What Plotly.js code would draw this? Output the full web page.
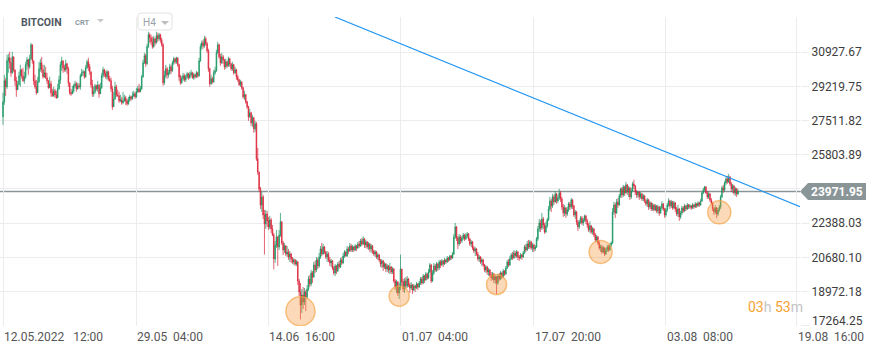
<!DOCTYPE html>
<html><head><meta charset="utf-8">
<script src="https://cdn.plot.ly/plotly-3.0.1.min.js"></script>
<style>html,body{margin:0;padding:0;background:#fff;overflow:hidden}#chart{width:871px;height:352px}</style>
</head><body><div id="chart"></div>
<script>
const symbol = 'BITCOIN';
const interval = 'H4';
const firstOpen = 27700;
const closes = [
28450,29500,29200,30500,30650,30400,29900,30700,30050,29500,
29050,29300,29750,30050,29750,29500,29700,30300,30550,30200,
30600,31300,30500,29500,29200,28900,29450,30100,30400,30050,
29700,29900,29650,29500,29150,29350,28900,28750,29000,28800,
28650,29100,29550,30300,30500,30150,30050,30350,30100,29400,
28900,28850,29000,29250,29350,29100,29250,29200,29750,29900,
29950,29700,30150,30450,30200,29950,29300,28850,28950,29250,
29100,29300,28850,29150,29750,30050,29850,29700,29950,29600,
29500,29100,28200,28600,29200,28800,28750,28500,28550,28400,
28500,28650,28500,28350,28550,28700,28600,28750,28850,28700,
28950,29100,28950,29100,29700,30400,30750,30350,31200,31800,
31650,31450,31200,31600,31400,31750,31600,31800,31550,31300,
29400,29750,30100,29800,29900,30200,30000,30400,30600,30450,
30650,30300,29700,29400,29600,29750,29550,29700,29850,29650,
29800,29900,29650,29800,29700,29900,29750,30500,31200,31400,
31250,31600,31350,31000,30100,29350,29600,29450,29900,30000,
30900,31300,30700,30400,30700,30550,30200,30450,30250,30600,
30350,30100,30300,29900,30050,29700,29550,29300,29450,29150,
28700,28800,28450,28200,27700,27900,27400,27650,27100,27350,
25600,24950,24100,23300,23700,22800,22350,22850,22500,22200,
22550,22100,21800,20600,21300,21700,21200,21800,22450,21400,
21050,21250,20850,20950,20700,20850,20600,20450,20550,20350,
20450,19500,18950,18300,18800,18450,18950,18700,19100,19600,
19350,19900,19700,20300,20050,20550,20250,20700,21100,20850,
21200,20950,20700,20850,20550,20400,20500,20150,19900,20250,
20000,20350,20200,20550,20400,20750,20950,20750,21100,21000,
21250,21050,21200,21050,21250,21150,21350,21250,21500,21350,
21600,21300,21450,21200,21350,21100,21250,21000,20850,20950,
20700,20800,20550,20350,20500,20200,20350,20100,20250,20050,
20200,19950,20100,19500,19200,19450,18900,19200,20100,19450,
19100,19500,19250,19600,19300,19150,19300,19050,19250,19150,
19350,19200,19400,19600,19400,19750,19550,19850,19650,19950,
20300,19500,19900,20250,20050,20350,20150,20450,20300,20500,
20350,20550,20450,20650,20550,20750,20650,20850,21700,22200,
21650,21350,21700,21500,21650,21800,21600,21750,21850,21600,
21350,21450,21150,21000,21100,20850,20600,20700,20450,20550,
20300,20050,20200,19950,20050,19800,19650,19850,19550,19700,
19400,19750,19600,19900,19700,20000,19850,20150,20450,20300,
20600,20800,20650,20900,20750,20950,20700,20650,20800,20700,
20900,21200,21050,21350,21200,21450,21150,21300,21100,21200,
21600,22100,22400,22150,22600,22300,21950,22250,22550,23100,
23500,23250,23700,23450,23850,23500,23650,23900,23600,23200,
22900,23150,22850,23050,23350,23200,23550,23250,22800,22950,
22450,22200,22450,22650,22400,22550,22750,22500,22300,22050,
22250,21950,22100,21800,21550,21700,21400,21150,21200,20950,
21150,20850,21050,21200,21050,21300,21400,22950,23300,22900,
23450,23300,23750,24100,23800,24200,23900,24300,23950,24150,
23700,24000,24350,24250,23950,23800,23950,23700,23850,23600,
23750,23500,23350,23550,23200,23400,23100,23300,23050,23250,
23000,23200,22900,23150,23350,23100,22800,23050,23300,23500,
23250,23450,23150,23400,23100,22850,23100,22700,22900,23150,
23000,23250,23100,23300,23200,23250,23150,23300,23200,23350,
23250,23400,23300,23500,23900,24050,24200,23900,23700,23850,
23550,23400,23100,22950,23150,22850,23050,23200,23700,24150,
24050,24400,24600,24450,24700,24350,24100,24250,23900,24100,
23850,23971.95];
const highs = [
28900,29800,29650,30800,30850,30950,30650,30950,30400,30000,
29700,29500,29950,30300,30100,30150,29950,30450,30700,30600,
30800,31400,31100,30300,29800,29550,29700,30450,30600,30700,
30300,30300,30200,29900,29550,29700,29500,29100,29200,29100,
29000,29350,29750,30450,30700,30450,30300,30550,30400,30200,
29400,29100,29250,29350,29500,29450,29400,29380,29850,30100,
30050,30000,30300,30550,30650,30350,29950,29550,29200,29350,
29300,29500,29300,29400,29900,30200,30100,30000,30050,30000,
29750,29650,29250,28950,29450,29300,29050,28950,28800,28700,
28950,28800,28750,28600,28700,28800,28750,28950,29000,28950,
29150,29250,29350,29250,29800,30550,30900,30850,31350,31950,
31900,31800,31700,31750,31650,31950,31900,31900,31850,31650,
31400,30000,30300,30200,30050,30350,30300,30500,30700,30650,
30700,30650,30350,29800,29750,29900,29850,29800,29950,29900,
29950,30050,29950,29900,29850,30000,29950,30650,31350,31500,
31550,31750,31700,31450,31100,30150,29800,29700,30050,30200,
31050,31450,31350,30850,30900,30800,30600,30600,30500,30700,
30650,30400,30450,30350,30200,30100,29800,29600,29550,29450,
29200,29000,28850,28500,28250,28100,27950,27800,27700,27500,
27450,26150,24950,24200,23950,23800,23050,23050,23000,22700,
22750,22650,22300,21900,21500,22050,21750,22050,22900,22500,
21500,21400,21300,21250,21100,21000,20900,20700,20650,20600,
20550,20500,19600,19400,19100,19200,19150,19050,19300,19750,
19800,20050,20000,20450,20500,20700,20650,20900,21250,21400,
21350,21250,21000,21000,20950,20700,20600,20550,20250,20350,
20300,20450,20500,20650,20700,20900,21050,21000,21250,21200,
21400,21350,21300,21250,21350,21300,21450,21500,21600,21650,
21740,21650,21550,21500,21450,21400,21350,21300,21050,21050,
21000,20900,20850,20600,20600,20550,20450,20400,20350,20300,
20400,20250,20200,20150,19600,19550,19500,19400,20820,20050,
19600,19650,19700,19750,19650,19400,19450,19350,19350,19300,
19450,19400,19500,19700,19700,19850,19800,19950,19900,20100,
20400,20350,20050,20400,20350,20450,20400,20550,20550,20600,
20550,20650,20600,20750,20700,20800,20800,20950,21850,22400,
22250,21750,21850,21800,21750,21900,21850,21900,21950,21900,
21650,21550,21500,21250,21200,21150,20950,20800,20750,20650,
20600,20350,20300,20250,20150,20100,19950,19950,19900,19800,
19750,19850,19900,20000,19950,20100,20050,20250,20550,20600,
20750,20900,20950,21050,21000,21050,21000,20800,20900,20850,
21000,21300,21350,21500,21550,21550,21500,21400,21350,21300,
21700,22250,22600,22550,22900,22700,22400,22450,22650,23250,
23700,23600,23850,23800,23980,23900,23800,24100,24000,23700,
23350,23300,23200,23200,23450,23450,23650,23600,23300,23050,
23000,22550,22550,22750,22750,22650,22820,22800,22600,22400,
22480,22300,22200,22150,21900,21800,21750,21500,21320,21300,
21250,21200,21150,21300,21300,21400,21480,23150,23450,23400,
23600,23640,23850,24150,24200,24300,24250,24450,24350,24250,
24200,24150,24450,24560,24300,24050,24000,23980,23950,23900,
23850,23800,23600,23650,23600,23500,23450,23400,23350,23350,
23300,23300,23250,23250,23480,23400,23150,23150,23400,23640,
23550,23550,23500,23500,23450,23200,23300,23150,23000,23250,
23250,23350,23300,23400,23350,23350,23300,23400,23350,23450,
23400,23480,23450,23600,23950,24150,24250,24230,24000,23980,
23900,23650,23450,23200,23300,23200,23150,23300,23800,24250,
24300,24500,24700,24750,24850,24750,24450,24350,24300,24200,
24150,24100];
const lows = [
27300,28300,28750,29100,29900,30100,29700,29850,29950,29250,
28700,29100,29300,29200,29600,29450,29350,29600,30050,29800,
30100,30550,30350,29300,29100,28800,29250,29400,29950,29900,
29600,29650,29600,29350,29100,29300,28700,28700,28700,28650,
28600,28850,29050,29350,30000,29900,29950,29950,29850,29200,
28800,28750,28850,28900,29150,28950,29050,29100,29050,29700,
29750,29600,29650,30100,30000,29800,29150,28700,28700,28850,
29000,28950,28650,29000,29100,29650,29700,29600,29550,29500,
29450,28950,28050,28450,28550,28700,28700,28400,28450,28300,
28350,28450,28300,28250,28300,28450,28500,28550,28700,28600,
28650,28900,28900,28950,29050,29650,30350,30200,30300,31150,
31400,31300,31100,31150,31250,31350,31450,31500,31400,31200,
29250,29300,29650,29600,29650,29800,29850,29950,30300,30350,
30350,30200,29500,29300,29350,29500,29450,29450,29600,29550,
29600,29700,29600,29550,29600,29650,29650,29700,30450,31050,
31100,31150,31250,30900,29950,29200,29300,29350,29400,29800,
29950,30850,30600,30250,30350,30350,30050,30100,30150,30200,
30200,30000,30000,29800,29850,29550,29450,29250,29200,29050,
28600,28550,28350,28100,27500,27650,27250,27200,26900,26950,
25500,24800,23950,23100,22950,22600,20820,22100,22200,22050,
22100,21900,21750,20080,20400,21150,20250,21050,21700,21300,
20800,20900,20750,20700,20550,20450,20400,20350,20300,20250,
20250,19300,18750,17580,17900,18100,18300,18000,18600,19000,
19200,19250,19400,19650,19900,19950,20100,20150,20600,20750,
20800,20850,20600,20450,20450,20250,20200,20050,19800,19740,
19850,19950,20100,20150,20300,20350,20650,20700,20700,20850,
20950,20950,20950,20950,21000,21000,21100,21150,21200,21250,
21300,21150,21150,21100,21050,20950,20900,20850,20750,20700,
20600,20550,20450,20200,20150,20000,20100,19950,19950,19900,
19850,19850,19850,19400,19050,18900,18750,18600,19050,19250,
18950,18900,19100,19150,19200,18900,19050,18850,19000,18950,
19100,19050,19150,19300,19300,19350,19400,19500,19550,19600,
19900,19400,19450,19800,19950,19950,20000,20050,20150,20250,
20200,20300,20350,20400,20450,20500,20550,20600,20800,21600,
21500,21100,21250,21350,21400,21550,21500,21550,21650,21500,
21250,21200,21050,20900,20750,20750,20500,20450,20350,20250,
20200,19950,19900,19800,19750,19700,19500,19550,19400,19350,
18830,19300,19500,19550,19600,19650,19750,19800,20100,20200,
20250,20550,20550,20600,20650,20650,20550,20500,20600,20550,
20650,20850,20950,21000,21100,21100,21050,20950,20950,21000,
21150,21500,21950,21950,22050,22100,21850,21900,22150,22500,
23000,22950,23150,23300,23400,23350,23400,23550,23450,23050,
22700,22750,22650,22750,22950,23050,23100,23100,22700,22600,
22300,22000,22100,22350,22300,22250,22450,22350,22150,21950,
21900,21850,21820,21700,21450,21450,21300,21050,20950,20850,
20900,20740,20800,20950,20950,21000,21200,21350,22800,22650,
22850,23150,23250,23650,23650,23700,23750,23850,23800,23700,
23550,23600,23950,24100,23800,23650,23650,23550,23600,23500,
23480,23400,23250,23200,23050,23100,23000,23000,22980,23000,
22900,22850,22750,22850,23050,23000,22650,22700,22950,23200,
23100,23150,23050,23100,22950,22750,22700,22500,22600,22800,
22900,22950,23000,23050,23100,23100,23050,23100,23100,23150,
23150,23200,23200,23250,23450,23850,23950,23850,23600,23600,
23450,23300,23000,22800,22850,22650,22750,22950,23100,23650,
23900,23950,24300,24350,24400,24250,23950,23900,23800,23750,
23700,23800];
const lastPrice = 23971.95;
const yTickVals = [17264.25, 18972.18, 20680.10, 22388.03, 24095.96, 25803.89, 27511.82, 29219.75, 30927.67];
const yTickText = ['', '18972.18', '20680.10', '22388.03', '', '25803.89', '27511.82', '29219.75', '30927.67'];
const xTickVals = ['2022-05-12 12:00','2022-05-29 04:00','2022-06-14 16:00','2022-07-01 04:00','2022-07-17 20:00','2022-08-03 08:00','2022-08-19 16:00'];
const xTickText = ['12.05.2022\u00a0\u00a0\u00a012:00','29.05\u00a0\u00a004:00','14.06\u00a0\u00a016:00','01.07\u00a0\u00a004:00','17.07\u00a0\u00a020:00','03.08\u00a0\u00a008:00','19.08\u00a0\u00a016:00'];
const trendTimes = ['2022-06-22 23:30', '2022-08-20 02:00'];
const trendPrices = [32688, 23213];
const markIdx = [223, 297, 370, 448, 537];
const markPrices = [17990, 18740, 19320, 20950, 22930];
const markSizes = [29, 20, 20, 23, 23];

function fmt(ms){const d=new Date(ms);const p=n=>String(n).padStart(2,'0');
  return d.getUTCFullYear()+'-'+p(d.getUTCMonth()+1)+'-'+p(d.getUTCDate())+' '+p(d.getUTCHours())+':'+p(d.getUTCMinutes());}
const t0 = Date.UTC(2022,4,12,12,0);
const times = closes.map((_,i)=>fmt(t0+i*4*3600e3));
const opens = closes.map((c,i)=> i===0 ? firstOpen : closes[i-1]);
const hi = highs.map((h,i)=>Math.max(h, opens[i], closes[i]));
const lo = lows.map((l,i)=>Math.min(l, opens[i], closes[i]));

const traces = [
 {type:'candlestick', x:times, open:opens, high:hi, low:lo, close:closes,
  increasing:{line:{color:'#14905d', width:0.7}, fillcolor:'#22ad74'},
  decreasing:{line:{color:'#d81f36', width:0.7}, fillcolor:'#f5334a'},
  whiskerwidth:0, hoverinfo:'skip', showlegend:false},
 {type:'scatter', mode:'lines', x:trendTimes, y:trendPrices, line:{color:'#2196f3', width:1.2}, hoverinfo:'skip', showlegend:false},
 {type:'scatter', mode:'markers', x:markIdx.map(i=>times[i]), y:markPrices,
  marker:{size:markSizes, color:'rgba(247,150,55,0.5)', line:{color:'#f5a040', width:1.5}}, hoverinfo:'skip', showlegend:false}
];

const ann = [];
xTickVals.forEach((v,i)=>ann.push({xref:'x', x:v, xanchor:'left', xshift:-1, yref:'paper', y:0, yanchor:'middle', yshift:-11,
  text:xTickText[i], showarrow:false, font:{family:'Roboto', size:12, color:'#555'}}));
ann.push({xref:'paper', x:1, xanchor:'left', xshift:10, yref:'y', y:yTickVals[0], yanchor:'middle', yshift:5,
  text:'17264.25', showarrow:false, font:{family:'Roboto', size:12, color:'#3d3d3d'}});
ann.push({xref:'paper', x:1, xanchor:'left', xshift:9, yref:'y', y:lastPrice, yanchor:'middle', yshift:-1,
  text:'<b>'+lastPrice.toFixed(2)+'</b>', showarrow:false, font:{family:'Roboto', size:12, color:'#ffffff'}});
ann.push({xref:'paper', x:1, xanchor:'right', xshift:5, yref:'paper', y:0, yanchor:'middle', yshift:19,
  text:'<span style="color:#f7a232">03</span><span style="color:#c4c4c4">h</span> <span style="color:#f7a232">53</span><span style="color:#c4c4c4">m</span>',
  showarrow:false, font:{family:'Roboto', size:14}});
ann.push({xref:'paper', x:0, xanchor:'left', xshift:19, yref:'paper', y:1, yanchor:'middle', yshift:-5,
  text:'<b>'+symbol+'</b>', showarrow:false, font:{family:'Roboto', size:10.5, color:'#4f5862'}});
ann.push({xref:'paper', x:0, xanchor:'left', xshift:73, yref:'paper', y:1, yanchor:'middle', yshift:-5,
  text:'<b>CRT</b>', showarrow:false, font:{family:'Roboto', size:7.5, color:'#8c99a3'}});
ann.push({xref:'paper', x:0, xanchor:'left', xshift:141, yref:'paper', y:1, yanchor:'middle', yshift:-5,
  text:interval, showarrow:false, font:{family:'Roboto', size:10, color:'#9aa1a7'}});

const shapes = [
 {type:'line', xref:'paper', x0:0, x1:1, yref:'y', y0:lastPrice, y1:lastPrice, line:{color:'#8a9598', width:1.5}, layer:'below'},
 {type:'path', xref:'paper', xsizemode:'pixel', xanchor:1, yref:'y', ysizemode:'pixel', yanchor:lastPrice,
  path:'M0,0 L8,8.5 L66,8.5 L66,-8.5 L8,-8.5 Z', fillcolor:'#8a9598', line:{width:0}, layer:'above'},
 {type:'path', xref:'paper', xsizemode:'pixel', xanchor:0, yref:'paper', ysizemode:'pixel', yanchor:1,
  path:'M141,4 L169,4 Q172,4 172,1 L172,-10 Q172,-13 169,-13 L141,-13 Q138,-13 138,-10 L138,1 Q138,4 141,4 Z',
  fillcolor:'#ffffff', line:{color:'#e2e2e2', width:1}, layer:'above'},
 {type:'path', xref:'paper', xsizemode:'pixel', xanchor:0, yref:'paper', ysizemode:'pixel', yanchor:1,
  path:'M97,-2 L104,-2 L100.5,-5.5 Z', fillcolor:'#c8c8c8', line:{width:0}, layer:'above'},
 {type:'path', xref:'paper', xsizemode:'pixel', xanchor:0, yref:'paper', ysizemode:'pixel', yanchor:1,
  path:'M161,-4 L169,-4 L165,-8 Z', fillcolor:'#bdbdbd', line:{width:0}, layer:'above'}
];

const layout = {
 width:871, height:352, margin:{l:0, r:71, t:17, b:26},
 paper_bgcolor:'#ffffff', plot_bgcolor:'#ffffff', showlegend:false, hovermode:false,
 font:{family:'Roboto, sans-serif', size:12, color:'#444'},
 xaxis:{type:'date', range:['2022-05-12 03:00','2022-08-20 02:00'], tickvals:xTickVals, showticklabels:false,
   showgrid:true, gridcolor:'#ececec', gridwidth:1, zeroline:false, showline:false, ticks:'',
   rangeslider:{visible:false}, fixedrange:true},
 yaxis:{side:'right', range:[17250, 32688], tickvals:yTickVals, ticktext:yTickText,
   showgrid:true, gridcolor:'#ececec', gridwidth:1, ticks:'outside', ticklen:8, tickcolor:'#ececec',
   tickfont:{family:'Roboto', size:12, color:'#3d3d3d'}, zeroline:false, showline:false, fixedrange:true},
 shapes:shapes, annotations:ann
};
Plotly.newPlot('chart', traces, layout, {staticPlot:true, displayModeBar:false});
</script>
</body></html>
